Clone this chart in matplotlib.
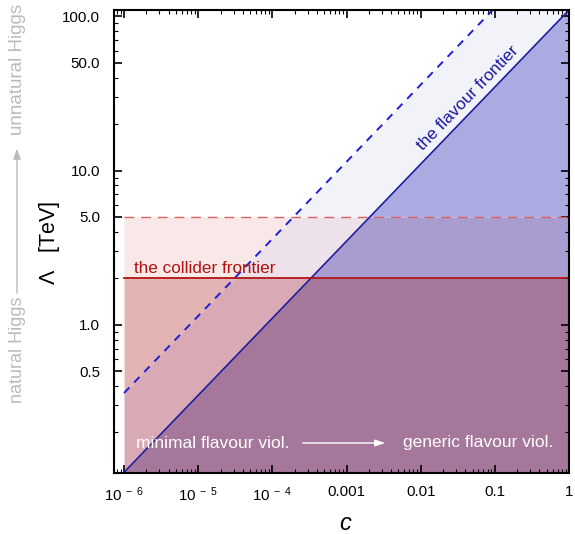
import numpy as np
import matplotlib
matplotlib.use("Agg")
import matplotlib.pyplot as plt

plt.rcParams['font.family'] = ['Liberation Sans', 'DejaVu Sans']
plt.rcParams['mathtext.fontset'] = 'custom'
plt.rcParams['mathtext.rm'] = 'Liberation Sans'
plt.rcParams['mathtext.it'] = 'Liberation Sans:italic'

# ---- data ----
c_line = [1e-6, 1.0]                 # coefficient c range
lam_flavour = [0.11, 110.0]          # flavour frontier (solid)
lam_flavour_future = [0.36, 360.0]   # future flavour reach (dashed)
lam_collider = 2.0                   # collider frontier (solid)
lam_collider_future = 5.0            # future collider reach (dashed)
x_ticks = [1e-6, 1e-5, 1e-4, 1e-3, 1e-2, 1e-1, 1.0]
x_ticklabels = [r'$\mathregular{10^{\ -\ 6}}$', r'$\mathregular{10^{\ -\ 5}}$',
                r'$\mathregular{10^{\ -\ 4}}$', '0.001', '0.01', '0.1', '1']
y_ticks = [0.5, 1.0, 5.0, 10.0, 50.0, 100.0]
y_ticklabels = ['0.5', '1.0', '5.0', '10.0', '50.0', '100.0']

xlim = (10 ** -6.135, 1.0)
ylim = (0.109, 110.0)

fig = plt.figure(figsize=(5.75, 5.34), dpi=100)
ax = fig.add_axes([114 / 575, 1 - 473 / 534, (569 - 114) / 575, (473 - 10) / 534])
ax.set_xscale('log')
ax.set_yscale('log')
ax.set_xlim(*xlim)
ax.set_ylim(*ylim)


def c_of(lam, lams):
    return np.exp(np.interp(np.log(lam), np.log(lams), np.log(c_line)))


cmin, cmax = c_line
bands = [(ylim[0], lam_collider), (lam_collider, lam_collider_future), (lam_collider_future, ylim[1])]
colors = [
    ('#e4b4b4', '#d9aab5', '#a5779b'),
    ('#f8e8e8', '#eee2ea', '#a99ccf'),
    (None, '#f2f2f9', '#ababe2'),
]
for (ylo, yhi), (cl, cm, cr) in zip(bands, colors):
    y = np.geomspace(ylo, yhi, 300)
    cs = np.clip(c_of(y, lam_flavour), cmin, cmax)
    cd = np.clip(c_of(y, lam_flavour_future), cmin, cmax)
    if cl:
        ax.fill_betweenx(y, cmin, cd, color=cl, lw=0, zorder=1)
    ax.fill_betweenx(y, cd, cs, color=cm, lw=0, zorder=1)
    ax.fill_betweenx(y, cs, cmax, color=cr, lw=0, zorder=1)

ax.plot(c_line, lam_flavour, color='#1a1a9e', lw=1.2, zorder=3)
ax.plot(c_line, lam_flavour_future, color='#1f1fd0', lw=1.4, ls=(0, (4, 3.5)), zorder=3)
ax.plot(c_line, [lam_collider] * 2, color='#b01212', lw=1.3, zorder=3)
ax.plot(c_line, [lam_collider_future] * 2, color='#e06060', lw=1.0, ls=(0, (7, 5)), zorder=3)

ax.text(1.36e-6, 2.07, 'the collider frontier', color='#b01212', fontsize=12.3,
        ha='left', va='bottom', zorder=4)
ax.text(0.0484, 28.3, 'the flavour frontier', color='#1a1a9e', fontsize=12.3,
        rotation=46, rotation_mode='anchor', ha='center', va='baseline', zorder=4)

# bottom annotation
fig.text(136 / 575, 1 - 443 / 534, 'minimal flavour viol.', color='white', fontsize=12.5,
         ha='left', va='center')
fig.text(553 / 575, 1 - 443 / 534, 'generic flavour viol.', color='white', fontsize=12.5,
         ha='right', va='center')
fig.patches.append(matplotlib.patches.FancyArrowPatch(
    (300 / 575, 1 - 443 / 534), (388 / 575, 1 - 443 / 534), transform=fig.transFigure,
    arrowstyle='-|>,head_length=6,head_width=2', color='white', lw=1.0))

# left annotation
gray = '#bbbbbb'
fig.text(18 / 575, 1 - 350 / 534, 'natural Higgs', color=gray, fontsize=13,
         rotation=90, ha='center', va='center')
fig.text(18 / 575, 1 - 69 / 534, 'unnatural Higgs', color=gray, fontsize=13.5,
         rotation=90, ha='center', va='center')
fig.patches.append(matplotlib.patches.FancyArrowPatch(
    (17 / 575, 1 - 296 / 534), (17 / 575, 1 - 146 / 534), transform=fig.transFigure,
    arrowstyle='-|>,head_length=6,head_width=2.2', color=gray, lw=1.0))

# axes labels
fig.text(50 / 575, 1 - 243 / 534, r'$\Lambda$   [TeV]', fontsize=15.5, rotation=90,
         ha='center', va='center')
fig.text(345 / 575, 1 - 523 / 534, 'c', fontsize=17, style='italic', ha='center', va='center')

ax.set_xticks(x_ticks)
ax.set_xticklabels(x_ticklabels)
ax.set_yticks(y_ticks)
ax.set_yticklabels(y_ticklabels)
ax.tick_params(which='both', direction='in', top=True, right=True, labelsize=10.8)
ax.tick_params(which='major', length=6, width=1.2)
ax.tick_params(axis='y', which='major', pad=10)
ax.tick_params(axis='x', which='major', pad=9)
ax.tick_params(which='minor', length=3, width=0.8)
ax.tick_params(axis='x', which='both', labeltop=False)
for s in ax.spines.values():
    s.set_linewidth(1.5)
    s.set_zorder(5)

fig.savefig('out.png', dpi=100)
